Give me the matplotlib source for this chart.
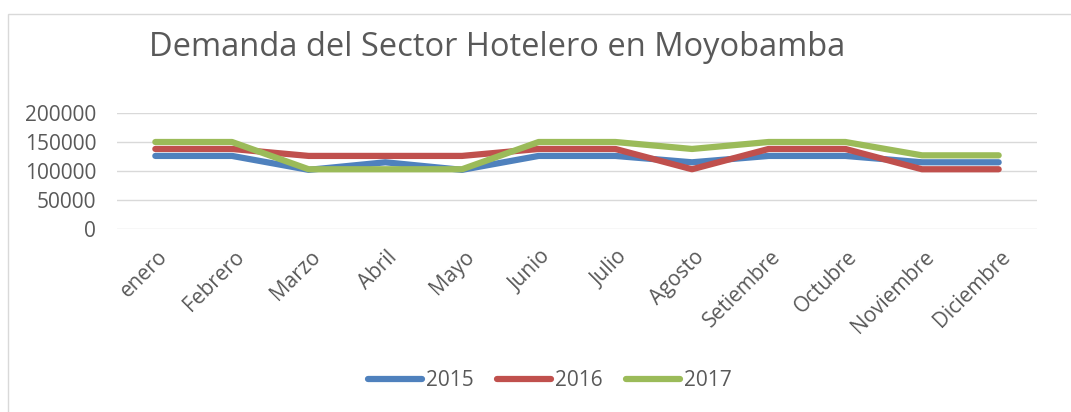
import matplotlib.pyplot as plt
from matplotlib.patches import Rectangle
import matplotlib.transforms as mtransforms

meses = ["enero", "Febrero", "Marzo", "Abril", "Mayo", "Junio", "Julio",
         "Agosto", "Setiembre", "Octubre", "Noviembre", "Diciembre"]
d2015 = [126000, 126000, 102000, 115000, 102000, 126000, 126000,
         115000, 126000, 126000, 115000, 115000]
d2016 = [138000, 138000, 126000, 126000, 126000, 138000, 138000,
         103000, 138000, 138000, 103000, 103000]
d2017 = [150000, 150000, 103000, 103000, 103000, 150000, 150000,
         138000, 150000, 150000, 127000, 127000]
yticks = [0, 50000, 100000, 150000, 200000]

plt.rcParams['font.family'] = ['Open Sans', 'DejaVu Sans']
gris = '#595959'

fig = plt.figure(figsize=(10.71, 4.12), dpi=100)
fig.patches.append(Rectangle((8/1071, -0.1), 1.2, 1.1 - 14/412,
                             transform=fig.transFigure, fill=False,
                             edgecolor='#d9d9d9', linewidth=1))
ax = fig.add_axes([117/1071, 1 - 229/412, 920/1071, 116/412])

x = range(len(meses))
ax.plot(x, d2015, color='#4F81BD', lw=4.5, solid_capstyle='round', label='2015')
ax.plot(x, d2016, color='#C0504D', lw=4.5, solid_capstyle='round', label='2016')
ax.plot(x, d2017, color='#9BBB59', lw=4.5, solid_capstyle='round', label='2017')

ax.set_xlim(-0.5, len(meses) - 0.5)
ax.set_ylim(0, 200000)
ax.set_yticks(yticks)
ax.set_yticklabels([str(v) for v in yticks])
ax.grid(axis='y', color='#d9d9d9', lw=1)
ax.set_axisbelow(True)
for s in ax.spines.values():
    s.set_visible(False)
ax.tick_params(length=0, colors=gris, labelsize=15)
ax.tick_params(axis='y', pad=15)

ax.set_xticks(list(x))
ax.set_xticklabels(meses, rotation=45, ha='right', va='center',
                   rotation_mode='anchor')
off = mtransforms.ScaledTranslation(0.09, -0.20, fig.dpi_scale_trans)
for lab in ax.get_xticklabels():
    lab.set_transform(lab.get_transform() + off)

fig.text(497/1071, 1 - 48/412, 'Demanda del Sector Hotelero en Moyobamba',
         ha='center', va='center', fontsize=23.5, color=gris)

leg = fig.legend(loc='center', bbox_to_anchor=(550/1071, 1 - 381/412),
                 ncol=3, frameon=False, fontsize=15, handlelength=2.6,
                 handletextpad=0.2, columnspacing=1.1)
for t in leg.get_texts():
    t.set_color(gris)

fig.savefig('out.png', dpi=100)
